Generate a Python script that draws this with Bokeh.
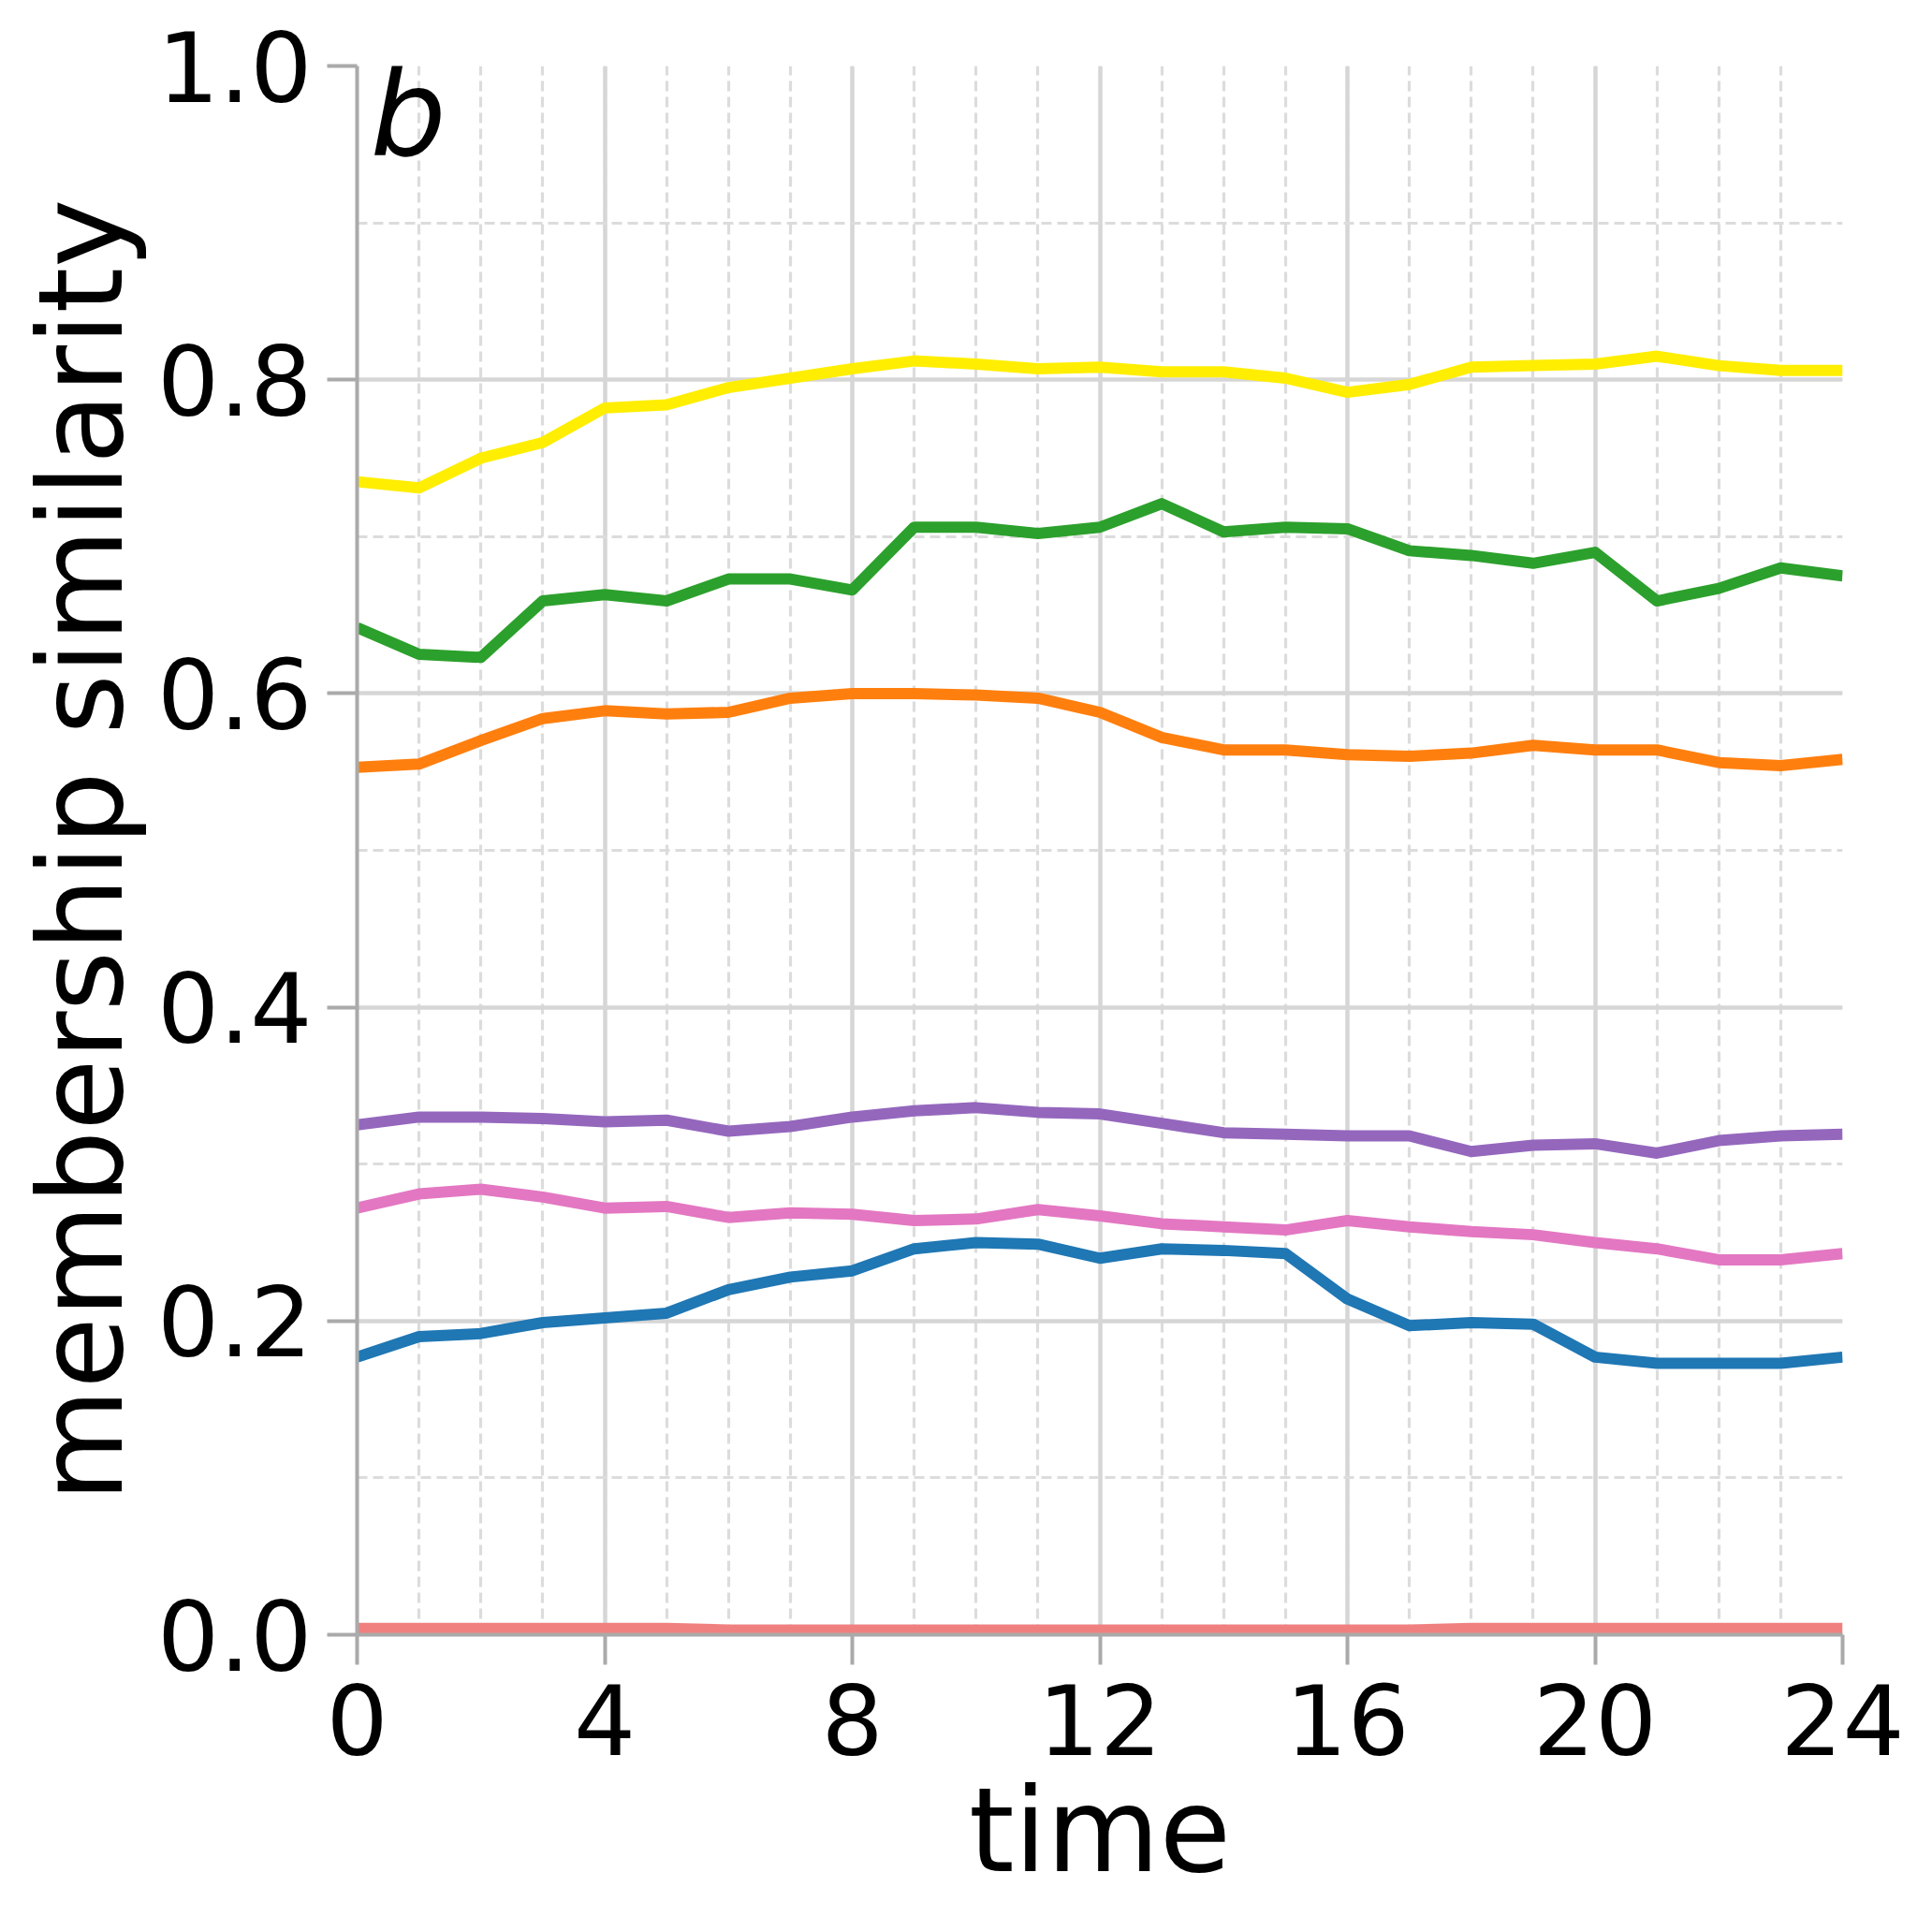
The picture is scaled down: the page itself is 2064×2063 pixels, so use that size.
from bokeh.plotting import figure
from bokeh.models import Range1d, FixedTicker, PrintfTickFormatter, Label
from bokeh.embed import file_html
from bokeh.resources import INLINE

time = list(range(25))

series_blue = [0.177, 0.190, 0.192, 0.199, 0.202, 0.205, 0.220, 0.228, 0.232, 0.246, 0.250, 0.249, 0.240,
               0.246, 0.245, 0.243, 0.214, 0.197, 0.199, 0.198, 0.177, 0.173, 0.173, 0.173, 0.177]
series_orange = [0.553, 0.555, 0.570, 0.584, 0.589, 0.587, 0.588, 0.597, 0.600, 0.600, 0.599, 0.597, 0.588,
                 0.572, 0.564, 0.564, 0.561, 0.560, 0.562, 0.567, 0.564, 0.564, 0.556, 0.554, 0.558]
series_green = [0.642, 0.625, 0.623, 0.659, 0.663, 0.659, 0.673, 0.673, 0.666, 0.706, 0.706, 0.702, 0.706,
                0.721, 0.703, 0.706, 0.705, 0.691, 0.688, 0.683, 0.690, 0.659, 0.667, 0.680, 0.675]
series_purple = [0.325, 0.330, 0.330, 0.329, 0.327, 0.328, 0.321, 0.324, 0.330, 0.334, 0.336, 0.333, 0.332,
                 0.326, 0.320, 0.319, 0.318, 0.318, 0.308, 0.312, 0.313, 0.307, 0.315, 0.318, 0.319]
series_pink = [0.272, 0.281, 0.284, 0.279, 0.272, 0.273, 0.266, 0.269, 0.268, 0.264, 0.265, 0.271, 0.267,
               0.262, 0.260, 0.258, 0.264, 0.260, 0.257, 0.255, 0.250, 0.246, 0.239, 0.239, 0.243]
series_yellow = [0.735, 0.731, 0.750, 0.760, 0.782, 0.784, 0.795, 0.801, 0.807, 0.812, 0.810, 0.807, 0.808,
                 0.805, 0.805, 0.801, 0.792, 0.797, 0.808, 0.809, 0.810, 0.815, 0.809, 0.806, 0.806]
series_salmon = [0.004, 0.004, 0.004, 0.004, 0.004, 0.004, 0.003, 0.003, 0.003, 0.003, 0.003, 0.003, 0.003,
                 0.003, 0.003, 0.003, 0.003, 0.003, 0.004, 0.004, 0.004, 0.004, 0.004, 0.004, 0.004]

series = [
    (series_blue, "#1f77b4"),
    (series_orange, "#ff7f0e"),
    (series_green, "#2ca02c"),
    (series_purple, "#9467bd"),
    (series_pink, "#e377c2"),
    (series_yellow, "#ffee00"),
    (series_salmon, "#f08080"),
]

x_major = [0, 4, 8, 12, 16, 20, 24]
x_minor = list(range(25))
y_major = [0.0, 0.2, 0.4, 0.6, 0.8, 1.0]
y_minor = [round(0.1 * i, 1) for i in range(11)]

FONT = "DejaVu Sans"

p = figure(frame_width=1587, frame_height=1676, output_backend="svg", toolbar_location=None,
           x_range=Range1d(0, 24), y_range=Range1d(0, 1),
           min_border_left=381, min_border_right=80, min_border_top=70, min_border_bottom=300)
p.outline_line_color = None
p.background_fill_color = "white"

for ys, c in series:
    p.line(time, ys, line_color=c, line_width=12, line_join="round")

p.xaxis.ticker = FixedTicker(ticks=x_major, minor_ticks=x_minor)
p.yaxis.ticker = FixedTicker(ticks=y_major, minor_ticks=y_minor)
p.xaxis.formatter = PrintfTickFormatter(format="%d")
p.yaxis.formatter = PrintfTickFormatter(format="%.1f")

for ax in (p.xaxis[0], p.yaxis[0]):
    ax.axis_line_color = "#aaaaaa"
    ax.axis_line_width = 4
    ax.major_tick_line_color = "#aaaaaa"
    ax.major_tick_line_width = 4
    ax.major_tick_out = 32
    ax.major_tick_in = 0
    ax.minor_tick_out = 0
    ax.minor_tick_in = 0
    ax.minor_tick_line_color = None
    ax.major_label_text_font = FONT
    ax.major_label_text_font_size = "104px"
    ax.major_label_text_color = "black"
    ax.axis_label_text_font = FONT
    ax.axis_label_text_font_size = "124px"
    ax.axis_label_text_font_style = "normal"
    ax.axis_label_text_color = "black"

p.xaxis.axis_label = "time"
p.yaxis.axis_label = "membership similarity"
p.xaxis.major_label_standoff = 20
p.xaxis.axis_label_standoff = 6
p.yaxis.major_label_standoff = 16
p.yaxis.axis_label_standoff = 6

for g in (p.xgrid[0], p.ygrid[0]):
    g.grid_line_color = "#d6d6d6"
    g.grid_line_width = 4.5
    g.minor_grid_line_color = "#dcdcdc"
    g.minor_grid_line_width = 3.2
    g.minor_grid_line_dash = "11 6"
p.xgrid.ticker = FixedTicker(ticks=x_major, minor_ticks=x_minor)
p.ygrid.ticker = FixedTicker(ticks=y_major, minor_ticks=y_minor)

panel = Label(x=0, y=1.0, x_offset=14, y_offset=24, text="b", text_font=FONT,
              text_font_size="128px", text_font_style="italic", text_color="black",
              text_baseline="top", text_align="left")
p.add_layout(panel)

open("out.html", "w").write(file_html(p, INLINE))
